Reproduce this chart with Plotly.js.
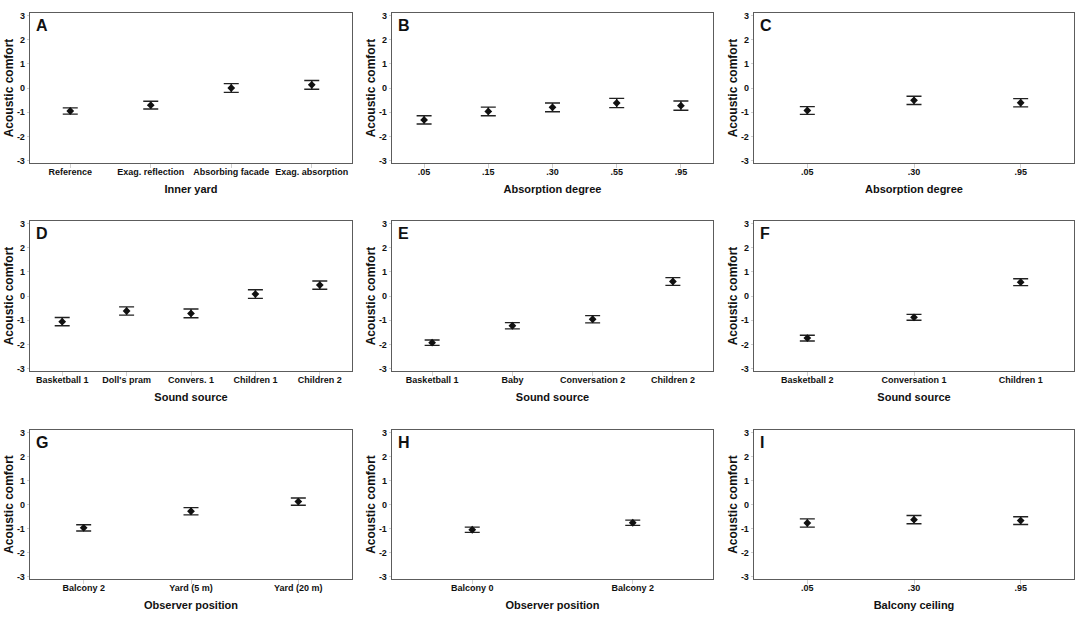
<!DOCTYPE html>
<html>
<head>
<meta charset="utf-8">
<script src="https://cdn.plot.ly/plotly-3.0.1.min.js"></script>
<style>
  html, body { margin: 0; padding: 0; background: #fff; }
  #chart { width: 1084px; height: 619px; }
</style>
</head>
<body>
<div id="chart"></div>
<script>
// values (mean and error half-width per condition)
const catA = ['Reference', 'Exag. reflection', 'Absorbing facade', 'Exag. absorption'];
const meanA = [-0.95, -0.71, 0.0, 0.13];
const errA = [0.13, 0.16, 0.18, 0.18];

const catB = ['.05', '.15', '.30', '.55', '.95'];
const meanB = [-1.32, -0.97, -0.80, -0.62, -0.73];
const errB = [0.17, 0.18, 0.18, 0.19, 0.19];

const catC = ['.05', '.30', '.95'];
const meanC = [-0.93, -0.51, -0.61];
const errC = [0.16, 0.17, 0.17];

const catD = ['Basketball 1', "Doll's pram", 'Convers. 1', 'Children 1', 'Children 2'];
const meanD = [-1.06, -0.62, -0.72, 0.08, 0.45];
const errD = [0.17, 0.17, 0.18, 0.18, 0.17];

const catE = ['Basketball 1', 'Baby', 'Conversation 2', 'Children 2'];
const meanE = [-1.93, -1.23, -0.96, 0.60];
const errE = [0.11, 0.13, 0.15, 0.16];

const catF = ['Basketball 2', 'Conversation 1', 'Children 1'];
const meanF = [-1.74, -0.88, 0.57];
const errF = [0.12, 0.12, 0.14];

const catG = ['Balcony 2', 'Yard (5 m)', 'Yard (20 m)'];
const meanG = [-0.97, -0.28, 0.12];
const errG = [0.13, 0.15, 0.15];

const catH = ['Balcony 0', 'Balcony 2'];
const meanH = [-1.05, -0.76];
const errH = [0.11, 0.11];

const catI = ['.05', '.30', '.95'];
const meanI = [-0.77, -0.63, -0.67];
const errI = [0.17, 0.17, 0.16];

const panelLetters = ['A', 'B', 'C', 'D', 'E', 'F', 'G', 'H', 'I'];
const xTitles = ['Inner yard', 'Absorption degree', 'Absorption degree',
    'Sound source', 'Sound source', 'Sound source',
    'Observer position', 'Observer position', 'Balcony ceiling'];
const yTitle = 'Acoustic comfort';
const yTickVals = [-3, -2, -1, 0, 1, 2, 3];
const yTickText = ['-3', '-2', '-1', '0', '1', '2', '3'];

(function () {
    const W = 1084, H = 619;
    const cats = [catA, catB, catC, catD, catE, catF, catG, catH, catI];
    const means = [meanA, meanB, meanC, meanD, meanE, meanF, meanG, meanH, meanI];
    const errs = [errA, errB, errC, errD, errE, errF, errG, errH, errI];

    // plot boxes in pixels
    const cols = [[30, 352], [392, 713], [754, 1074]];
    const rows = [[13, 163], [221, 371], [430, 579]];

    const font = 'Liberation Sans, Arial, sans-serif';
    const traces = [];
    const annotations = [];
    const layout = {
        width: W,
        height: H,
        margin: {l: 0, r: 0, t: 0, b: 0},
        paper_bgcolor: '#ffffff',
        plot_bgcolor: '#ffffff',
        font: {family: font, size: 9, color: '#111'},
        showlegend: false,
    };

    for (let i = 0; i < 9; i++) {
        const n = i === 0 ? '' : String(i + 1);
        const c = cols[i % 3];
        const r = rows[Math.floor(i / 3)];

        traces.push({
            x: cats[i],
            y: means[i],
            xaxis: 'x' + n,
            yaxis: 'y' + n,
            type: 'scatter',
            mode: 'markers',
            marker: {symbol: 'diamond', size: 6, color: '#111'},
            error_y: {
                type: 'data',
                array: errs[i],
                visible: true,
                color: '#222',
                thickness: 1.4,
                width: 7.5,
            },
            hoverinfo: 'x+y',
        });

        layout['xaxis' + n] = {
            domain: [c[0] / W, c[1] / W],
            anchor: 'y' + n,
            type: 'category',
            range: [-0.5, cats[i].length - 0.5],
            showline: true,
            mirror: true,
            linecolor: '#5c5c5c',
            linewidth: 1.3,
            ticks: 'outside',
            ticklen: 4,
            tickwidth: 1,
            tickcolor: '#cfcfcf',
            ticklabelstandoff: -4,
            showgrid: false,
            zeroline: false,
            tickfont: {family: font, size: 9, color: '#111', weight: 'bold'},
            title: {
                text: '<b>' + xTitles[i] + '</b>',
                font: {family: font, size: 11, color: '#111'},
                standoff: 9,
            },
            fixedrange: true,
        };
        layout['yaxis' + n] = {
            domain: [1 - r[1] / H, 1 - r[0] / H],
            anchor: 'x' + n,
            range: [-3.1, 3.1],
            tickvals: yTickVals,
            ticktext: yTickText,
            showline: true,
            mirror: true,
            linecolor: '#5c5c5c',
            linewidth: 1.3,
            ticks: 'outside',
            ticklen: 2,
            tickwidth: 1,
            tickcolor: '#cfcfcf',
            showgrid: false,
            zeroline: false,
            tickfont: {family: font, size: 9, color: '#111', weight: 'bold'},
            title: {
                text: '<b>' + yTitle + '</b>',
                font: {family: font, size: 12, color: '#111'},
                standoff: 0,
            },
            fixedrange: true,
        };

        annotations.push({
            xref: 'x' + n + ' domain',
            yref: 'y' + n + ' domain',
            x: 0.012,
            y: 0.985,
            xanchor: 'left',
            yanchor: 'top',
            text: '<b>' + panelLetters[i] + '</b>',
            showarrow: false,
            font: {family: font, size: 16, color: '#111'},
        });
    }
    layout.annotations = annotations;

    Plotly.newPlot('chart', traces, layout, {displayModeBar: false, staticPlot: true});
})();
</script>
</body>
</html>
